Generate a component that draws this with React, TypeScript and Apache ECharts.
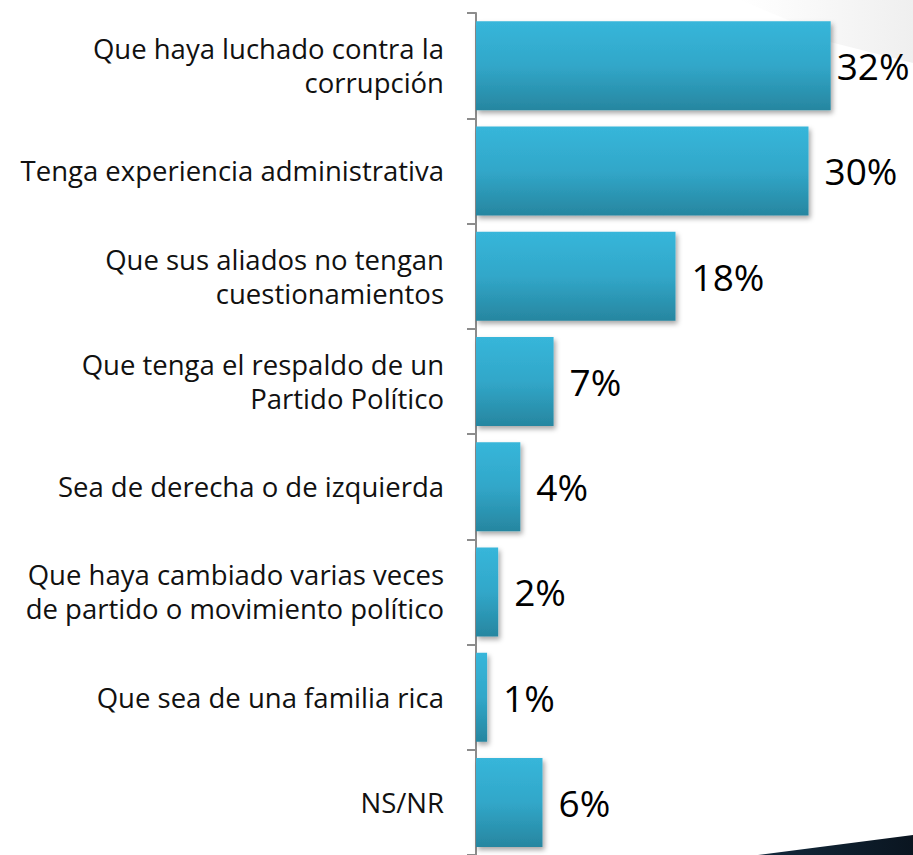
import React, { useEffect, useRef } from "react";
import * as echarts from "echarts";

const categories = [
  "Que haya luchado contra la\ncorrupción",
  "Tenga experiencia administrativa",
  "Que sus aliados no tengan\ncuestionamientos",
  "Que tenga el respaldo de un\nPartido Político",
  "Sea de derecha o de izquierda",
  "Que haya cambiado varias veces\nde partido o movimiento político",
  "Que sea de una familia rica",
  "NS/NR",
];
const values = [32, 30, 18, 7, 4, 2, 1, 6];

const FONT = "'Open Sans', 'Noto Sans', sans-serif";

export default function App() {
  const ref = useRef<HTMLDivElement>(null);
  useEffect(() => {
    if (!ref.current) return;
    const chart = echarts.init(ref.current, null, { renderer: "svg" });
    chart.setOption({
      animation: false,
      backgroundColor: "#ffffff",
      graphic: [
        {
          type: "polygon",
          z: -10,
          shape: {
            points: [
              [740, 0],
              [913, 0],
              [913, 63],
              [830, 42],
              [800, 25],
            ],
          },
          style: {
            fill: new echarts.graphic.LinearGradient(0, 0, 1, 0, [
              { offset: 0, color: "rgba(240,240,240,0)" },
              { offset: 1, color: "#efefef" },
            ]),
          },
        },
        {
          type: "polygon",
          z: 10,
          shape: {
            points: [
              [758, 855],
              [913, 835],
              [913, 855],
            ],
          },
          style: {
            fill: new echarts.graphic.LinearGradient(0, 0, 1, 0, [
              { offset: 0, color: "#132a3d" },
              { offset: 1, color: "#0a1520" },
            ]),
          },
        },
      ],
      grid: { left: 476, right: 38, top: 13, bottom: -3, containLabel: false },
      xAxis: {
        type: "value",
        min: 0,
        max: 36,
        show: false,
      },
      yAxis: {
        type: "category",
        data: categories,
        inverse: true,
        axisLine: { show: true, lineStyle: { color: "#8c8c8c", width: 2 } },
        axisTick: { show: true, length: 9, lineStyle: { color: "#8c8c8c", width: 2 } },
        axisLabel: {
          margin: 32,
          color: "#111111",
          fontSize: 27.5,
          fontFamily: FONT,
          lineHeight: 34,
          align: "right",
        },
        splitLine: { show: false },
      },
      series: [
        {
          type: "bar",
          data: values.map((v, i) => ({
            value: v,
            label: { distance: i === 0 ? 6 : 16 },
          })),
          barWidth: 89,
          itemStyle: {
            color: new echarts.graphic.LinearGradient(0, 0, 0, 1, [
              { offset: 0, color: "#37b6da" },
              { offset: 0.5, color: "#31a7c9" },
              { offset: 1, color: "#2786a0" },
            ]),
            shadowColor: "rgba(0,0,0,0.35)",
            shadowBlur: 5,
            shadowOffsetX: 2,
            shadowOffsetY: 3,
          },
          label: {
            show: true,
            position: "right",
            distance: 16,
            formatter: "{c}%",
            color: "#000000",
            fontSize: 37,
            fontFamily: FONT,
          },
        },
      ],
    });
    return () => chart.dispose();
  }, []);
  return (
    <div
      ref={ref}
      style={{ position: "fixed", left: 0, top: 0, width: 913, height: 855 }}
    />
  );
}
